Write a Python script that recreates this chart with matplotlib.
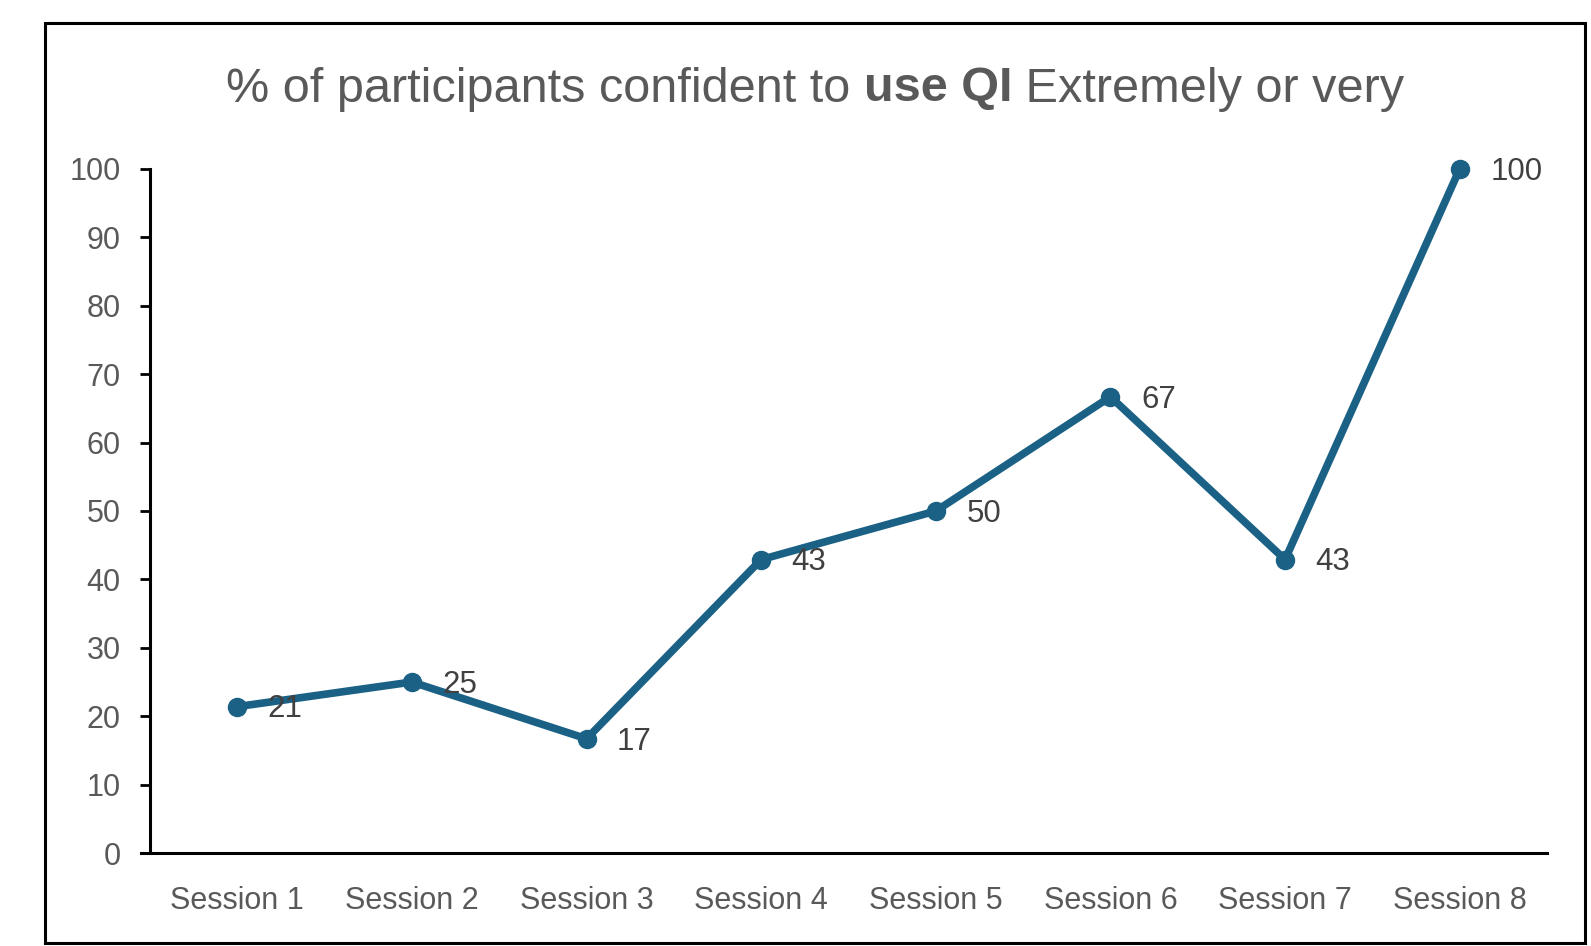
import matplotlib
matplotlib.use("Agg")
import matplotlib.pyplot as plt
from matplotlib.patches import Rectangle

sessions = ["Session 1", "Session 2", "Session 3", "Session 4",
            "Session 5", "Session 6", "Session 7", "Session 8"]
pct_confident = [21.4, 25.0, 16.7, 42.9, 50.0, 66.7, 42.9, 100.0]
y_ticks = [0, 10, 20, 30, 40, 50, 60, 70, 80, 90, 100]

line_color = "#1a6185"
grey = "#595959"
label_grey = "#404040"
plt.rcParams["font.family"] = ["Liberation Sans", "DejaVu Sans"]

fig = plt.figure(figsize=(15.91, 9.46), dpi=100)
W, H = 1591, 946

# outer frame around the chart
fig.patches.append(Rectangle((45 / W, 1 - 943 / H), (1585 - 45) / W, (943 - 23) / H,
                             transform=fig.transFigure, fill=False,
                             edgecolor="black", linewidth=2.2))

ax = fig.add_axes([150 / W, 1 - 853 / H, (1547 - 150) / W, (853 - 169) / H])
x = list(range(len(sessions)))
ax.plot(x, pct_confident, color=line_color, linewidth=5.5, marker="o",
        markersize=13, clip_on=False, zorder=3, solid_joinstyle="round")

for xi, v in zip(x, pct_confident):
    ax.annotate(f"{v:.0f}", (xi, v), xytext=(22, -2), textcoords="offset points",
                ha="left", va="center", fontsize=22.5, color=label_grey)

ax.set_xlim(-0.5, len(sessions) - 0.5)
ax.set_ylim(0, 100)
ax.set_yticks(y_ticks)
ax.set_xticks(x)
ax.set_xticklabels(sessions)
ax.tick_params(axis="y", length=7, width=2, pad=14, labelsize=22, labelcolor=grey)
ax.tick_params(axis="x", length=0, pad=24, labelsize=22, labelcolor=grey)
for s in ["top", "right"]:
    ax.spines[s].set_visible(False)
ax.spines["left"].set_linewidth(2.2)
ax.spines["bottom"].set_linewidth(2.2)
ax.spines["bottom"].set_bounds(-0.55, len(sessions) - 0.5)

# title made of three pieces, middle one bold
parts = [("% of participants confident to ", "normal"), ("use QI", "bold"),
         (" Extremely or very", "normal")]
fig.canvas.draw()
renderer = fig.canvas.get_renderer()
texts = []
for s, w in parts:
    t = fig.text(0, 1 - 89 / H, s, fontsize=35, fontweight=w, color=grey,
                 ha="left", va="center")
    texts.append(t)
widths = [t.get_window_extent(renderer).width for t in texts]
total = sum(widths)
cx = 815
start = cx - total / 2
for t, w in zip(texts, widths):
    t.set_x(start / W)
    start += w

fig.savefig("out.png", dpi=100)
